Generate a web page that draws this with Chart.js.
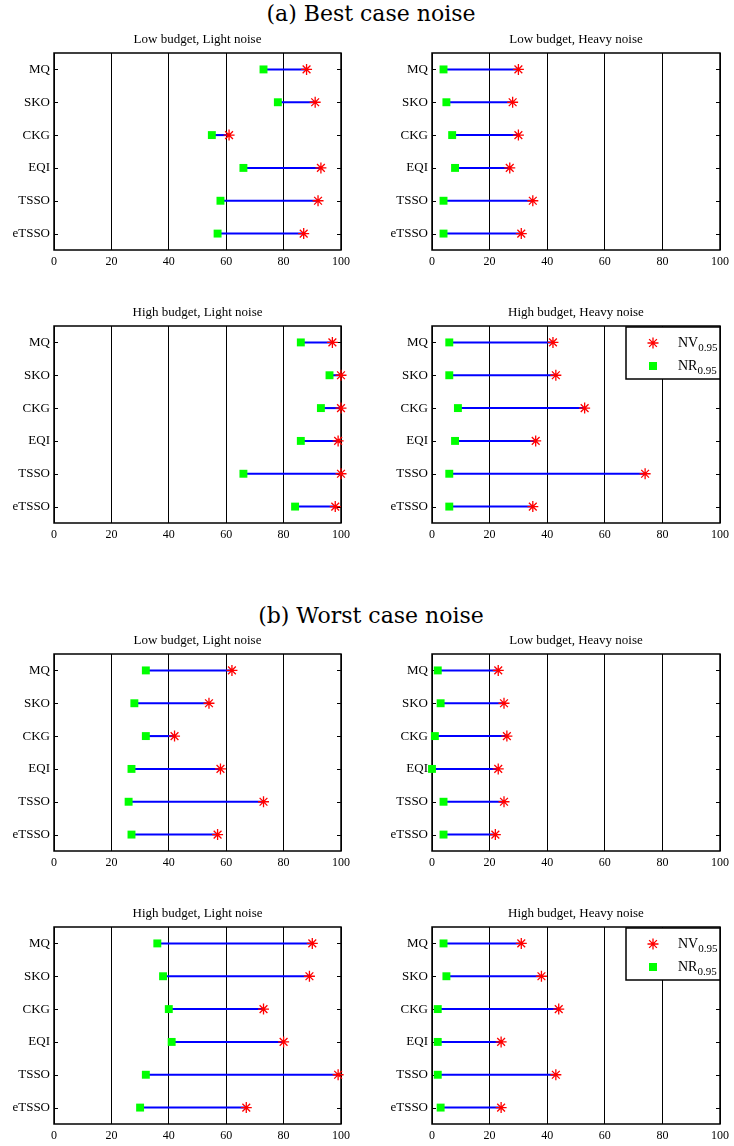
<!DOCTYPE html>
<html>
<head>
<meta charset="utf-8">
<script src="https://cdn.jsdelivr.net/npm/chart.js@4.4.0/dist/chart.umd.min.js"></script>
<style>
  body { margin: 0; background: #fff; width: 734px; height: 1146px; position: relative; overflow: hidden; }
  .sec { position: absolute; left: 0; width: 742px; text-align: center; font-family: 'DejaVu Serif', serif;
         font-size: 22px; line-height: 22px; color: #000; }
  .panel { position: absolute; width: 367px; height: 247px; }
</style>
</head>
<body>
<div class="sec" style="top:3px">(a) Best case noise</div>
<div class="sec" style="top:605px">(b) Worst case noise</div>
<script>
// methods on the y axis, top to bottom
const methods = ['MQ', 'SKO', 'CKG', 'EQI', 'TSSO', 'eTSSO'];
const xTicks = [0, 20, 40, 60, 80, 100];

// (a) best case noise
const bestLowLightNR = [73, 78, 55, 66, 58, 57];
const bestLowLightNV = [88, 91, 61, 93, 92, 87];
const bestLowHeavyNR = [4, 5, 7, 8, 4, 4];
const bestLowHeavyNV = [30, 28, 30, 27, 35, 31];
const bestHighLightNR = [86, 96, 93, 86, 66, 84];
const bestHighLightNV = [97, 100, 100, 99, 100, 98];
const bestHighHeavyNR = [6, 6, 9, 8, 6, 6];
const bestHighHeavyNV = [42, 43, 53, 36, 74, 35];

// (b) worst case noise
const worstLowLightNR = [32, 28, 32, 27, 26, 27];
const worstLowLightNV = [62, 54, 42, 58, 73, 57];
const worstLowHeavyNR = [2, 3, 1, 0, 4, 4];
const worstLowHeavyNV = [23, 25, 26, 23, 25, 22];
const worstHighLightNR = [36, 38, 40, 41, 32, 30];
const worstHighLightNV = [90, 89, 73, 80, 99, 67];
const worstHighHeavyNR = [4, 5, 2, 2, 2, 3];
const worstHighHeavyNV = [31, 38, 44, 24, 43, 24];

const RED = '#ff0000', GREEN = '#00ff00', BLUE = '#0000ff';
const SERIF = "'Liberation Serif', 'Times New Roman', serif";

// box round the plot, title centred over the plot, little inner ticks (matlab style)
const frame = {
  id: 'frame',
  beforeDatasetsDraw(chart, args, opts) {
    const { ctx, chartArea: a, scales: { y } } = chart;
    ctx.save();
    ctx.strokeStyle = '#000';
    ctx.lineWidth = 1;
    ctx.beginPath();
    for (let i = 0; i < methods.length; i++) {
      const py = Math.round(y.getPixelForValue(i)) + 0.5;
      ctx.moveTo(a.left, py); ctx.lineTo(a.left + 4, py);
      ctx.moveTo(a.right, py); ctx.lineTo(a.right - 4, py);
    }
    ctx.stroke();
    ctx.lineWidth = 1.5;
    ctx.strokeRect(a.left, a.top, a.right - a.left, a.bottom - a.top);
    ctx.fillStyle = '#000';
    ctx.font = '13px ' + SERIF;
    ctx.textAlign = 'center';
    ctx.textBaseline = 'middle';
    ctx.fillText(opts.title, (a.left + a.right) / 2, a.top - 13);
    ctx.restore();
  }
};

// legend with subscripts, only on the "High budget, Heavy noise" panels
const nvLegend = {
  id: 'nvLegend',
  afterDatasetsDraw(chart, args, opts) {
    if (!opts.show) return;
    const { ctx, chartArea: a } = chart;
    const w = 94, h = 52;
    const x0 = a.right - w, y0 = a.top + 1;
    ctx.save();
    ctx.fillStyle = '#fff';
    ctx.fillRect(x0, y0, w, h);
    ctx.lineWidth = 1.5;
    ctx.strokeStyle = '#000';
    ctx.strokeRect(x0, y0, w, h);
    // star marker
    const sx = x0 + 27, sy = y0 + 16, r = 5.5, d = r * Math.SQRT1_2;
    ctx.strokeStyle = RED;
    ctx.lineWidth = 1.3;
    ctx.beginPath();
    ctx.moveTo(sx - r, sy); ctx.lineTo(sx + r, sy);
    ctx.moveTo(sx, sy - r); ctx.lineTo(sx, sy + r);
    ctx.moveTo(sx - d, sy - d); ctx.lineTo(sx + d, sy + d);
    ctx.moveTo(sx - d, sy + d); ctx.lineTo(sx + d, sy - d);
    ctx.stroke();
    // square marker
    ctx.fillStyle = GREEN;
    ctx.fillRect(x0 + 23, y0 + 35, 8, 8);
    // labels
    ctx.fillStyle = '#000';
    ctx.textBaseline = 'alphabetic';
    const items = [['NV', y0 + 20], ['NR', y0 + 43]];
    for (const [txt, by] of items) {
      ctx.font = '14px ' + SERIF;
      ctx.fillText(txt, x0 + 52, by);
      const tw = ctx.measureText(txt).width;
      ctx.font = '11px ' + SERIF;
      ctx.fillText('0.95', x0 + 52 + tw, by + 4);
    }
    ctx.restore();
  }
};

function makePanel(left, top, yAxisWidth, rightPad, title, nr, nv, legend) {
  const div = document.createElement('div');
  div.className = 'panel';
  div.style.left = left + 'px';
  div.style.top = top + 'px';
  const canvas = document.createElement('canvas');
  canvas.width = 367; canvas.height = 247;
  div.appendChild(canvas);
  document.body.appendChild(div);

  const spans = nr.map((v, i) => [v, nv[i]]);
  return new Chart(canvas.getContext('2d'), {
    type: 'bar',
    data: {
      labels: methods,
      datasets: [
        { type: 'bar', data: spans, backgroundColor: BLUE, borderWidth: 0,
          barThickness: 1.4, order: 3 },
        { type: 'line', label: 'NR', data: nr, showLine: false, pointStyle: 'rect',
          pointRadius: 5.6, pointBackgroundColor: GREEN, pointBorderColor: GREEN,
          pointBorderWidth: 0, clip: false, order: 2 },
        { type: 'line', label: 'NV', data: nv, showLine: false, pointStyle: 'star',
          pointRadius: 5.5, pointBorderColor: RED, pointBorderWidth: 1.3, clip: false, order: 1 }
      ]
    },
    options: {
      indexAxis: 'y',
      responsive: false,
      animation: false,
      events: [],
      layout: { padding: { top: 30, right: rightPad, bottom: 0, left: 0 } },
      plugins: {
        legend: { display: false },
        tooltip: { enabled: false },
        title: { display: false },
        frame: { title: title },
        nvLegend: { show: legend }
      },
      scales: {
        x: {
          type: 'linear', position: 'bottom',
          min: xTicks[0], max: xTicks[xTicks.length - 1],
          afterFit(s) { s.height = 20; },
          afterBuildTicks(s) { s.ticks = xTicks.map(v => ({ value: v })); },
          ticks: { color: '#000', padding: 5, font: { family: SERIF, size: 12 } },
          grid: { color: '#000', lineWidth: 1, drawTicks: false },
          border: { display: false }
        },
        y: {
          type: 'category', offset: true,
          afterFit(s) { s.width = yAxisWidth; },
          ticks: { color: '#000', padding: 4, font: { family: SERIF, size: 13 } },
          grid: { display: false, drawTicks: false },
          border: { display: false }
        }
      }
    },
    plugins: [frame, nvLegend]
  });
}

// left column plot x 54..341, right column 432..720; rows start at plot top - 30
makePanel(0, 23, 54, 26, 'Low budget, Light noise', bestLowLightNR, bestLowLightNV, false);
makePanel(367, 23, 65, 14, 'Low budget, Heavy noise', bestLowHeavyNR, bestLowHeavyNV, false);
makePanel(0, 296, 54, 26, 'High budget, Light noise', bestHighLightNR, bestHighLightNV, false);
makePanel(367, 296, 65, 14, 'High budget, Heavy noise', bestHighHeavyNR, bestHighHeavyNV, true);

makePanel(0, 624, 54, 26, 'Low budget, Light noise', worstLowLightNR, worstLowLightNV, false);
makePanel(367, 624, 65, 14, 'Low budget, Heavy noise', worstLowHeavyNR, worstLowHeavyNV, false);
makePanel(0, 897, 54, 26, 'High budget, Light noise', worstHighLightNR, worstHighLightNV, false);
makePanel(367, 897, 65, 14, 'High budget, Heavy noise', worstHighHeavyNR, worstHighHeavyNV, true);
</script>
</body>
</html>
